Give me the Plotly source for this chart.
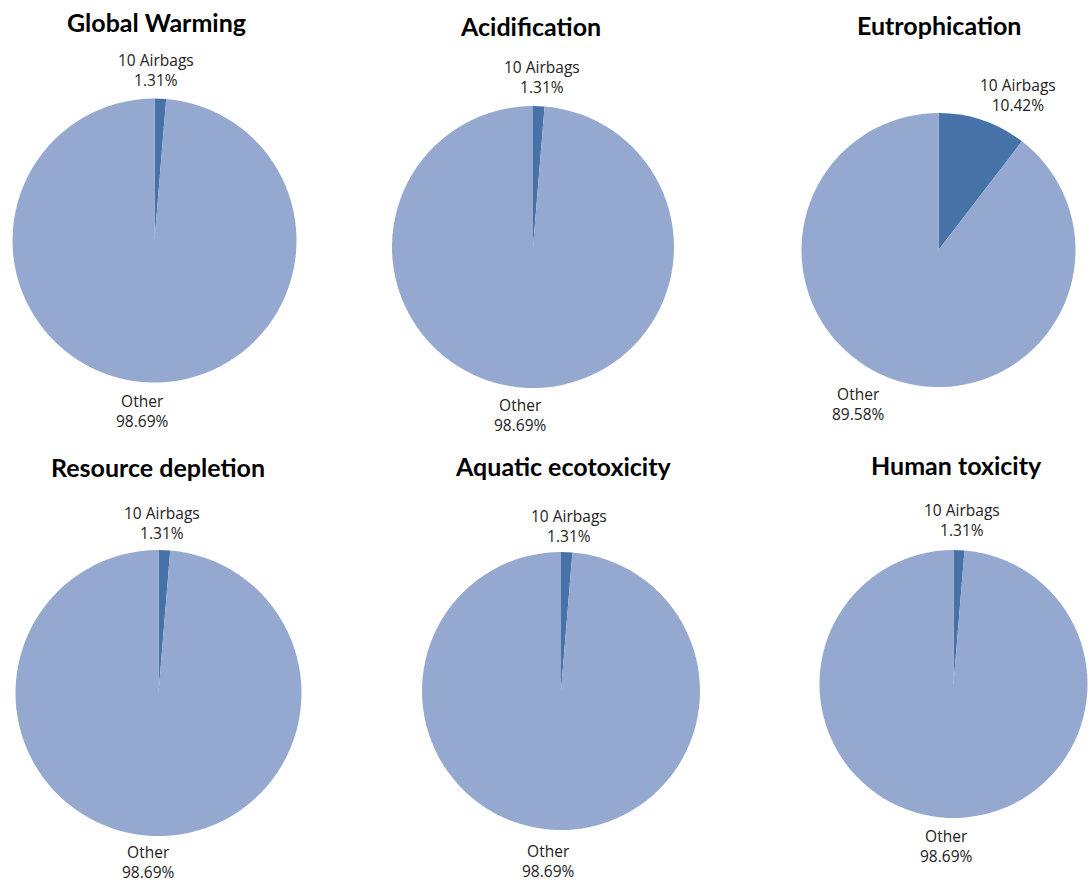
import plotly.graph_objects as go

W, H = 1091, 884

# Impact categories and the share of each attributed to the airbags
titles = ["Global Warming", "Acidification", "Eutrophication",
          "Resource depletion", "Aquatic ecotoxicity", "Human toxicity"]
slice_labels = ["10 Airbags", "Other"]
airbag_share = [1.31, 1.31, 10.42, 1.31, 1.31, 1.31]
other_share = [98.69, 98.69, 89.58, 98.69, 98.69, 98.69]

colors = ["#4672A8", "#94A8D0"]

# pie geometry in pixels: centre x, centre y, radius
geom = [(154.5, 240.5, 142), (533, 247, 141), (938.5, 250, 137),
        (158.5, 693, 143), (561, 691, 139), (953.5, 684, 134)]
# title centres in pixels
title_pos = [(156, 22), (530, 26), (939, 25), (158, 467), (563, 466), (956, 465)]
# label anchor (centre of the two-line block) in pixels
airbag_lab = [(156, 70), (542, 77), (1018, 95), (162, 523), (569, 526), (962, 520)]
other_lab = [(142, 411), (520, 415), (858, 404), (148, 862), (548, 861), (946, 846)]

fig = go.Figure()
annotations = []
TITLE_FONT = "Lato, 'Open Sans', sans-serif"
LABEL_FONT = "'Open Sans', sans-serif"

for i in range(6):
    cx, cy, r = geom[i]
    vals = [airbag_share[i], other_share[i]]
    fig.add_trace(go.Pie(
        labels=slice_labels,
        values=vals,
        sort=False,
        direction="clockwise",
        rotation=0,
        marker=dict(colors=colors, line=dict(width=0)),
        textinfo="none",
        hoverinfo="label+percent",
        showlegend=False,
        domain=dict(x=[(cx - r) / W, (cx + r) / W],
                    y=[1 - (cy + r) / H, 1 - (cy - r) / H]),
    ))
    tx, ty = title_pos[i]
    annotations.append(dict(
        text=f"<b>{titles[i]}</b>", x=tx / W, y=1 - ty / H,
        xref="paper", yref="paper", showarrow=False,
        xanchor="center", yanchor="middle",
        font=dict(family=TITLE_FONT, size=25, color="#000000")))
    for (lx, ly), name, v in [(airbag_lab[i], slice_labels[0], vals[0]),
                              (other_lab[i], slice_labels[1], vals[1])]:
        annotations.append(dict(
            text=f"{name}<br>{v:.2f}%", x=lx / W, y=1 - ly / H,
            xref="paper", yref="paper", showarrow=False,
            xanchor="center", yanchor="middle", align="center",
            font=dict(family=LABEL_FONT, size=15.5, color="#222222")))

fig.update_layout(
    width=W, height=H,
    margin=dict(l=0, r=0, t=0, b=0),
    paper_bgcolor="white", plot_bgcolor="white",
    annotations=annotations,
)

fig.write_html("out.html")
